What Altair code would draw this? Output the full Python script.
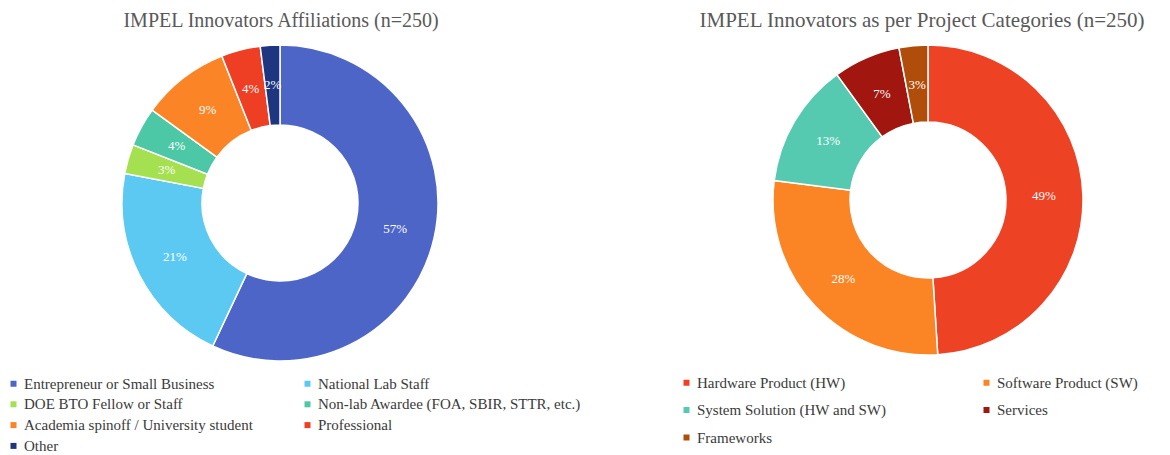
import altair as alt
import pandas as pd

# ---- data ----
titles = ["IMPEL Innovators Affiliations (n=250)",
          "IMPEL Innovators as per Project Categories (n=250)"]

aff_cats = ["Entrepreneur or Small Business", "National Lab Staff",
            "DOE BTO Fellow or Staff", "Non-lab Awardee (FOA, SBIR, STTR, etc.)",
            "Academia spinoff / University student", "Professional", "Other"]
aff_pct = [57, 21, 3, 4, 9, 4, 2]
aff_colors = ["#4E65C8", "#5BC9F1", "#A5E050", "#4CC8A6", "#FB8526", "#EE3E24", "#1E3580"]

cat_cats = ["Hardware Product (HW)", "Software Product (SW)",
            "System Solution (HW and SW)", "Services", "Frameworks"]
cat_pct = [49, 28, 13, 7, 3]
cat_colors = ["#EE4224", "#FB8424", "#55CAB0", "#A1170F", "#B04D0A"]


def frame(cats, pct):
    return pd.DataFrame({"cat": cats, "pct": pct,
                         "idx": list(range(len(cats))),
                         "label": [f"{p}%" for p in pct]})


def donut(df, cats, colors, cx, cy, ro, ri, rl, lx, ly, colpad, rowpad,
          title, tx, tsize):
    base = alt.Chart(df).encode(
        theta=alt.Theta("pct:Q", stack=True),
        order=alt.Order("idx:Q"),
    )
    arcs = base.mark_arc(outerRadius=ro, innerRadius=ri, stroke="white",
                         strokeWidth=1.5).encode(
        color=alt.Color("cat:N", scale=alt.Scale(domain=cats, range=colors),
                        legend=alt.Legend(
                            title=None, orient="none", legendX=lx, legendY=ly,
                            direction="horizontal",
                            columns=2, gridAlign="all", columnPadding=colpad,
                            rowPadding=rowpad, symbolType="square", symbolSize=36,
                            symbolStrokeWidth=0,
                            labelFont="Liberation Serif", labelFontSize=15,
                            labelColor="#3A3A3A", labelLimit=400, labelOffset=3)),
        x=alt.value(cx), y=alt.value(cy),
    )
    text = base.mark_text(radius=rl, font="Liberation Serif", fontSize=13,
                          color="white").encode(
        text="label:N", x=alt.value(cx), y=alt.value(cy))
    ttl = alt.Chart(pd.DataFrame({"t": [title]})).mark_text(
        font="Liberation Serif", fontSize=tsize, color="#595959",
        baseline="alphabetic", align="center").encode(
        text="t:N", x=alt.value(tx), y=alt.value(19))
    return [arcs, text, ttl]


left = donut(frame(aff_cats, aff_pct), aff_cats, aff_colors,
             272, 195, 158, 78, 118, -2, 368, 12, 4.8, titles[0], 273, 20)
right = donut(frame(cat_cats, cat_pct), cat_cats, cat_colors,
              920, 192, 155, 78, 116, 671, 367, 92, 11.5, titles[1], 914, 21)

chart = alt.layer(*left, *right).resolve_scale(
    color="independent", theta="independent"
).properties(
    width=1154, height=447, autosize=alt.AutoSizeParams(type="none"), padding=0
).configure_view(stroke=None)

chart.save("out.html", embed_options={"renderer": "svg", "actions": False})
